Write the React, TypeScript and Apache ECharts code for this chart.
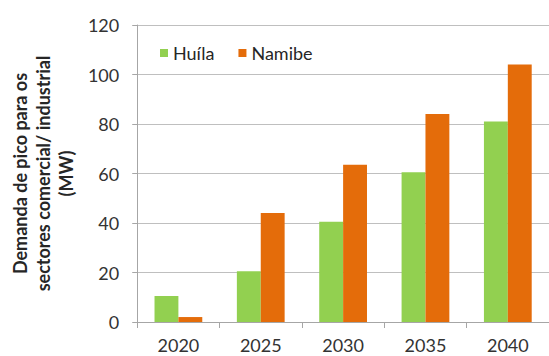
import React, { useEffect, useRef } from "react";
import * as echarts from "echarts";

const categories = ["2020", "2025", "2030", "2035", "2040"];
const huila = [10.5, 20.5, 40.5, 60.5, 81];
const namibe = [2, 44, 63.5, 84, 104];
const seriesNames = ["Huíla", "Namibe"];
const yAxisTitle = "Demanda de pico para os\nsectores comercial/ industrial\n(MW)";

const FONT = "Lato";

export default function App() {
  const ref = useRef<HTMLDivElement>(null);
  useEffect(() => {
    if (!ref.current) return;
    const chart = echarts.init(ref.current, null, { renderer: "svg" });
    chart.setOption({
      animation: false,
      backgroundColor: "#ffffff",
      textStyle: { fontFamily: FONT },
      legend: {
        left: 155,
        top: 39,
        itemWidth: 8,
        itemHeight: 8,
        itemGap: 24,
        icon: "rect",
        textStyle: { fontSize: 18, color: "#262626", fontFamily: FONT },
        data: seriesNames,
      },
      grid: { left: 129, right: 0, top: 25, bottom: 34, containLabel: false },
      xAxis: {
        type: "category",
        data: categories,
        axisLine: { show: true, lineStyle: { color: "#a6a6a6" } },
        axisTick: { show: true, length: 6, alignWithLabel: false, lineStyle: { color: "#a6a6a6" } },
        axisLabel: { fontSize: 18, color: "#333333", margin: 14, fontFamily: FONT },
      },
      yAxis: {
        type: "value",
        min: 0,
        max: 120,
        interval: 20,
        name: yAxisTitle,
        nameLocation: "middle",
        nameGap: 54,
        nameTextStyle: {
          fontSize: 18,
          fontWeight: "bold",
          color: "#262626",
          lineHeight: 23,
          fontFamily: FONT,
          align: "center",
        },
        axisLine: { show: true, lineStyle: { color: "#a6a6a6" } },
        axisTick: { show: true, length: 5, lineStyle: { color: "#a6a6a6" } },
        axisLabel: { fontSize: 18, color: "#333333", margin: 18, fontFamily: FONT },
        splitLine: { show: true, lineStyle: { color: "#bfbfbf", width: 1 } },
      },
      series: [
        {
          name: seriesNames[0],
          type: "bar",
          data: huila,
          itemStyle: { color: "#92D050" },
          barGap: "0%",
          barCategoryGap: "42%",
        },
        {
          name: seriesNames[1],
          type: "bar",
          data: namibe,
          itemStyle: { color: "#E46C0A" },
          barGap: "0%",
          barCategoryGap: "42%",
        },
      ],
    });
    return () => chart.dispose();
  }, []);
  return <div ref={ref} style={{ width: 549, height: 356, position: "absolute", left: 0, top: 0 }} />;
}
